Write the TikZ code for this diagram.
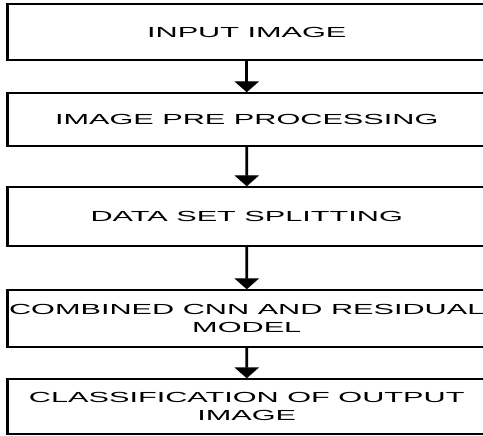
\documentclass[tikz,border=0pt]{standalone}
\usepackage{fontspec}
\setmainfont{Liberation Sans}
\usepackage{tikz}
\usetikzlibrary{arrows.meta, positioning}
\tikzset{
    stage/.style={draw, rectangle, line width=1.4pt, minimum width=227.9pt, align=center, inner sep=0pt,
        font=\fontsize{14.6}{17.5}\selectfont},
    conn/.style={-{Triangle[width=11.5pt, length=11pt]}, line width=1.4pt},
}

\begin{document}
\begin{tikzpicture}[x=1pt, y=1pt]
    \useasboundingbox (0,0) rectangle (483,-436);
    \begin{scope}[
        transform canvas={xscale=2.1},
        level distance=87.5pt,
        level 2/.style={level distance=97pt},
        level 3/.style={level distance=102pt},
        level 4/.style={level distance=88pt},
        edge from parent/.style={draw=none},
        ]
        \node [stage, minimum height=56pt] (input) at (117.5,-32) {INPUT IMAGE}
            child{
                node [stage, minimum height=53pt] (prep) {IMAGE PRE PROCESSING}
                child{
                    node [stage, minimum height=59pt] (split) {DATA SET SPLITTING}
                    child{
                        node [stage, minimum height=57pt] (model) {COMBINED CNN AND RESIDUAL\\MODEL}
                        child{
                            node [stage, minimum height=55pt] (cls) {CLASSIFICATION OF OUTPUT\\IMAGE}
                        }
                    }
                }
            };

        \draw[conn] (input) -- (prep);
        \draw[conn] (prep) -- (split);
        \draw[conn] (split) -- (model);
        \draw[conn] (model) -- (cls);
    \end{scope}
\end{tikzpicture}
\end{document}
